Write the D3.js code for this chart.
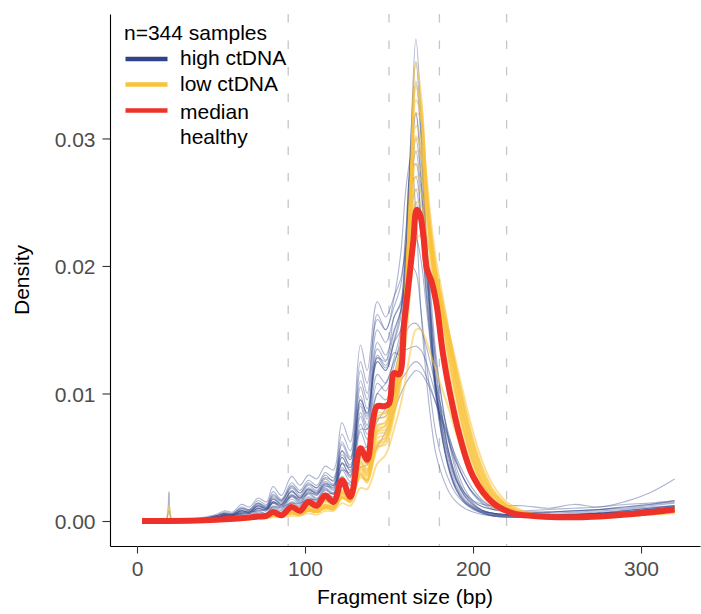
<!DOCTYPE html>
<html><head><meta charset="utf-8">
<script src="https://cdn.jsdelivr.net/npm/d3@7"></script>
<style>
body{margin:0;background:#fff;}
svg{display:block;font-family:"Liberation Sans",Arial,Helvetica,sans-serif;}
</style>
</head><body>
<svg id="chart" width="701" height="614"></svg>
<script>
// ---- data ----
const fragmentBp = [3,10,17,19,21,30,40,47,52,57,62,67,72,77,81,86,92,97,102,107,112,117,122,127,133,137,143,148,153,157,160,163,166,169,172,175,178,182,186,190,195,200,206,212,220,230,245,260,275,290,305,320];

const highCtDNA1 = [0,0,0,.0023,.0001,.0001,.0003,.0005,.0008,.0007,.0013,.0011,.0018,.0015,.0027,.0020,.0035,.0028,.0036,.0033,.0043,.0040,.0077,.0062,.0138,.0118,.0172,.0160,.0176,.0190,.0215,.0245,.0260,.0235,.0195,.0160,.0125,.0090,.0062,.0042,.0025,.0016,.0011,.0009,.0008,.0007,.0007,.0008,.0009,.0011,.0013,.0015];
const highCtDNA2 = [0,0,0,0,0,.0001,.0002,.0004,.0006,.0006,.0010,.0009,.0014,.0012,.0020,.0016,.0027,.0022,.0029,.0026,.0034,.0032,.0055,.0048,.0095,.0085,.0125,.0118,.0132,.0130,.0134,.0136,.0137,.0134,.0125,.0112,.0098,.0080,.0062,.0046,.0032,.0022,.0015,.0011,.0009,.0008,.0009,.0010,.0011,.0013,.0014,.0016];
const highCtDNA3 = [0,0,0,0,0,.0001,.0002,.0003,.0004,.0005,.0006,.0007,.0008,.0009,.0011,.0011,.0014,.0014,.0017,.0017,.0021,.0022,.0030,.0030,.0042,.0044,.0058,.0070,.0086,.0100,.0108,.0114,.0118,.0116,.0110,.0102,.0092,.0078,.0064,.0050,.0036,.0025,.0016,.0011,.0008,.0006,.0005,.0005,.0006,.0007,.0008,.0009];
const highCtDNA4 = [0,0,0,0,0,.0001,.0002,.0003,.0005,.0005,.0008,.0007,.0012,.0010,.0018,.0013,.0024,.0018,.0025,.0022,.0030,.0026,.0055,.0042,.0105,.0088,.0140,.0130,.0150,.0165,.0195,.0250,.0300,.0270,.0215,.0165,.0120,.0080,.0052,.0033,.0020,.0013,.0008,.0006,.0005,.0004,.0004,.0005,.0006,.0008,.0010,.0012];
const highCtDNA5 = [0,0,0,0,0,0,.0001,.0002,.0003,.0003,.0005,.0004,.0008,.0006,.0012,.0009,.0017,.0013,.0019,.0016,.0024,.0021,.0042,.0034,.0082,.0068,.0115,.0108,.0128,.0150,.0200,.0290,.0345,.0300,.0220,.0150,.0100,.0062,.0038,.0024,.0014,.0009,.0006,.0004,.0003,.0003,.0003,.0004,.0005,.0006,.0008,.0010];
const highCtDNA6 = [0,0,0,0,0,0,.0001,.0001,.0002,.0002,.0004,.0003,.0006,.0005,.0010,.0007,.0014,.0011,.0016,.0013,.0020,.0017,.0035,.0028,.0070,.0058,.0100,.0095,.0115,.0140,.0200,.0300,.0378,.0320,.0230,.0160,.0105,.0065,.0040,.0025,.0015,.0010,.0006,.0004,.0003,.0003,.0003,.0004,.0005,.0006,.0007,.0009];
const highCtDNA7 = [0,0,0,.0001,0,.0001,.0002,.0004,.0006,.0005,.0009,.0008,.0013,.0011,.0019,.0015,.0026,.0020,.0028,.0024,.0033,.0029,.0060,.0048,.0110,.0095,.0150,.0140,.0160,.0170,.0190,.0215,.0222,.0205,.0170,.0135,.0100,.0070,.0048,.0032,.0022,.0016,.0013,.0012,.0012,.0012,.0010,.0013,.0011,.0015,.0022,.0033];
const highCtDNA8 = [0,0,0,0,0,.0001,.0002,.0003,.0004,.0004,.0007,.0006,.0010,.0008,.0015,.0011,.0020,.0015,.0022,.0018,.0026,.0022,.0045,.0036,.0085,.0072,.0125,.0118,.0140,.0160,.0215,.0275,.0280,.0235,.0180,.0135,.0095,.0062,.0040,.0026,.0016,.0011,.0007,.0005,.0004,.0004,.0004,.0005,.0006,.0007,.0009,.0011];
const highCtDNA9 = [0,0,0,0,0,0,.0001,.0002,.0002,.0002,.0003,.0003,.0005,.0004,.0007,.0005,.0010,.0008,.0012,.0010,.0016,.0013,.0028,.0020,.0052,.0045,.0080,.0082,.0105,.0135,.0190,.0270,.0320,.0285,.0225,.0175,.0130,.0090,.0060,.0038,.0022,.0014,.0008,.0006,.0004,.0003,.0003,.0003,.0004,.0005,.0006,.0007];
const highCtDNA10 = [0,0,0,0,0,.0001,.0002,.0003,.0005,.0004,.0008,.0007,.0012,.0010,.0017,.0013,.0023,.0018,.0025,.0021,.0029,.0025,.0050,.0040,.0092,.0080,.0130,.0122,.0140,.0150,.0185,.0230,.0250,.0225,.0180,.0140,.0105,.0072,.0048,.0031,.0019,.0012,.0008,.0006,.0005,.0004,.0004,.0005,.0006,.0007,.0009,.0011];
const highCtDNA11 = [0,0,0,0,0,.0001,.0002,.0003,.0004,.0004,.0007,.0006,.0010,.0009,.0014,.0012,.0019,.0017,.0022,.0021,.0027,.0027,.0045,.0042,.0072,.0072,.0100,.0108,.0125,.0138,.0148,.0154,.0155,.0150,.0138,.0122,.0105,.0085,.0066,.0048,.0032,.0021,.0013,.0009,.0007,.0006,.0006,.0007,.0008,.0009,.0011,.0012];
const highCtDNA12 = [0,0,0,0,0,.0001,.0002,.0004,.0006,.0005,.0010,.0008,.0014,.0011,.0021,.0016,.0028,.0022,.0030,.0026,.0036,.0031,.0062,.0050,.0118,.0100,.0158,.0150,.0175,.0210,.0260,.0285,.0240,.0165,.0115,.0078,.0052,.0034,.0022,.0015,.0010,.0007,.0005,.0004,.0004,.0004,.0004,.0005,.0006,.0008,.0010,.0012];
const highCtDNA13 = [0,0,0,0,0,.0001,.0001,.0002,.0004,.0003,.0006,.0005,.0009,.0008,.0014,.0010,.0019,.0014,.0021,.0017,.0025,.0021,.0046,.0035,.0090,.0075,.0128,.0120,.0142,.0165,.0225,.0290,.0320,.0270,.0200,.0145,.0102,.0068,.0044,.0028,.0017,.0011,.0007,.0005,.0004,.0004,.0004,.0005,.0006,.0007,.0009,.0011];
const highCtDNA14 = [0,0,0,.0008,0,.0001,.0002,.0004,.0007,.0006,.0011,.0009,.0016,.0013,.0023,.0017,.0030,.0024,.0032,.0028,.0038,.0034,.0068,.0055,.0125,.0108,.0162,.0150,.0168,.0185,.0225,.0262,.0270,.0238,.0188,.0145,.0108,.0076,.0052,.0035,.0022,.0015,.0011,.0009,.0008,.0007,.0007,.0008,.0009,.0011,.0013,.0016];
const highCtDNA15 = [0,0,0,0,0,0,.0001,.0002,.0003,.0003,.0005,.0004,.0007,.0006,.0011,.0008,.0015,.0012,.0018,.0015,.0022,.0019,.0040,.0031,.0076,.0064,.0108,.0102,.0122,.0145,.0205,.0300,.0360,.0305,.0220,.0152,.0102,.0064,.0040,.0025,.0015,.0010,.0006,.0004,.0003,.0003,.0003,.0004,.0005,.0006,.0008,.0010];
const highCtDNA16 = [0,0,0,0,0,.0001,.0002,.0003,.0005,.0005,.0008,.0007,.0012,.0010,.0017,.0014,.0023,.0019,.0026,.0023,.0031,.0028,.0052,.0044,.0095,.0084,.0128,.0125,.0148,.0165,.0188,.0200,.0195,.0165,.0128,.0095,.0068,.0046,.0031,.0021,.0014,.0010,.0007,.0006,.0005,.0005,.0005,.0006,.0007,.0008,.0010,.0012];
const highCtDNA17 = [0,0,0,0,0,.0001,.0002,.0003,.0004,.0004,.0006,.0006,.0010,.0009,.0015,.0012,.0021,.0016,.0023,.0020,.0028,.0024,.0050,.0039,.0098,.0082,.0135,.0126,.0160,.0172,.0210,.0262,.0290,.0260,.0205,.0155,.0114,.0078,.0051,.0033,.0020,.0013,.0008,.0006,.0005,.0004,.0004,.0005,.0006,.0007,.0009,.0011];
const highCtDNA18 = [0,0,0,0,0,.0001,.0002,.0003,.0005,.0005,.0008,.0007,.0011,.0010,.0015,.0013,.0020,.0018,.0024,.0022,.0029,.0028,.0040,.0038,.0058,.0058,.0078,.0088,.0100,.0110,.0116,.0122,.0125,.0122,.0114,.0104,.0092,.0076,.0060,.0046,.0032,.0022,.0014,.0010,.0008,.0007,.0007,.0008,.0009,.0010,.0012,.0014];

const lowCtDNA1 = [0,0,0,0,0,0,0,.0001,.0001,.0001,.0002,.0002,.0003,.0003,.0004,.0004,.0006,.0005,.0008,.0007,.0011,.0010,.0018,.0015,.0038,.0032,.0062,.0065,.0090,.0125,.0190,.0280,.0360,.0335,.0270,.0215,.0180,.0145,.0115,.0088,.0060,.0040,.0024,.0014,.0008,.0004,.0003,.0003,.0004,.0005,.0006,.0008];
const lowCtDNA2 = [0,0,0,0,0,0,0,.0001,.0001,.0001,.0002,.0002,.0003,.0003,.0005,.0004,.0007,.0006,.0009,.0008,.0012,.0011,.0022,.0017,.0042,.0036,.0068,.0070,.0095,.0125,.0180,.0265,.0330,.0318,.0268,.0222,.0190,.0158,.0128,.0100,.0070,.0047,.0028,.0017,.0009,.0005,.0003,.0003,.0004,.0005,.0007,.0009];
const lowCtDNA3 = [0,0,0,0,0,0,0,.0001,.0001,.0001,.0002,.0002,.0003,.0003,.0005,.0004,.0007,.0006,.0010,.0008,.0013,.0012,.0024,.0019,.0045,.0039,.0072,.0075,.0100,.0128,.0175,.0250,.0300,.0295,.0262,.0228,.0198,.0168,.0138,.0110,.0078,.0052,.0031,.0019,.0010,.0005,.0003,.0003,.0004,.0005,.0007,.0009];
const lowCtDNA4 = [0,0,0,0,0,0,.0001,.0001,.0001,.0001,.0002,.0002,.0004,.0003,.0005,.0005,.0008,.0007,.0011,.0009,.0015,.0013,.0027,.0021,.0050,.0044,.0080,.0082,.0108,.0132,.0170,.0235,.0280,.0275,.0248,.0215,.0190,.0162,.0135,.0108,.0078,.0054,.0033,.0020,.0011,.0006,.0004,.0003,.0004,.0005,.0007,.0009];
const lowCtDNA5 = [0,0,0,0,0,0,0,.0001,.0001,.0001,.0002,.0002,.0003,.0003,.0005,.0004,.0007,.0006,.0009,.0008,.0012,.0011,.0022,.0018,.0042,.0038,.0070,.0075,.0100,.0125,.0160,.0215,.0260,.0258,.0238,.0212,.0192,.0168,.0142,.0116,.0086,.0060,.0037,.0022,.0012,.0006,.0004,.0003,.0003,.0004,.0006,.0008];
const lowCtDNA6 = [0,0,0,0,0,0,0,.0001,.0001,.0001,.0002,.0002,.0003,.0003,.0004,.0004,.0006,.0006,.0008,.0007,.0010,.0010,.0019,.0016,.0036,.0033,.0060,.0066,.0090,.0115,.0150,.0200,.0240,.0240,.0225,.0205,.0188,.0166,.0142,.0118,.0090,.0064,.0040,.0024,.0013,.0007,.0004,.0003,.0003,.0004,.0005,.0007];
const lowCtDNA7 = [0,0,0,0,0,0,0,.0001,.0001,.0001,.0002,.0002,.0003,.0003,.0004,.0004,.0006,.0005,.0008,.0007,.0011,.0009,.0019,.0015,.0036,.0030,.0058,.0060,.0082,.0110,.0170,.0260,.0340,.0322,.0262,.0208,.0172,.0138,.0108,.0082,.0056,.0037,.0022,.0013,.0007,.0004,.0002,.0002,.0003,.0004,.0005,.0007];
const lowCtDNA8 = [0,0,0,0,0,0,0,0,.0001,.0001,.0001,.0001,.0002,.0002,.0003,.0003,.0004,.0004,.0006,.0005,.0008,.0008,.0014,.0012,.0026,.0025,.0045,.0052,.0072,.0092,.0112,.0135,.0150,.0150,.0142,.0130,.0118,.0102,.0086,.0068,.0048,.0032,.0019,.0011,.0007,.0004,.0003,.0003,.0003,.0004,.0005,.0006];
const lowCtDNA9 = [0,0,0,.0012,0,0,.0001,.0001,.0002,.0002,.0003,.0003,.0005,.0004,.0007,.0006,.0010,.0008,.0013,.0011,.0017,.0015,.0030,.0024,.0055,.0048,.0085,.0085,.0112,.0140,.0190,.0260,.0310,.0300,.0262,.0225,.0195,.0163,.0132,.0103,.0072,.0048,.0029,.0017,.0009,.0005,.0003,.0003,.0004,.0005,.0007,.0009];
const lowCtDNA10 = [0,0,0,0,0,0,0,.0001,.0001,.0001,.0002,.0002,.0003,.0003,.0005,.0004,.0007,.0006,.0010,.0008,.0013,.0011,.0024,.0019,.0046,.0040,.0074,.0078,.0104,.0128,.0168,.0230,.0270,.0268,.0245,.0218,.0196,.0172,.0146,.0120,.0090,.0063,.0040,.0024,.0013,.0007,.0004,.0003,.0003,.0004,.0006,.0008];
const lowCtDNA11 = [0,0,0,0,0,0,0,.0001,.0001,.0001,.0002,.0002,.0003,.0003,.0005,.0005,.0007,.0006,.0009,.0008,.0012,.0012,.0023,.0019,.0047,.0041,.0075,.0077,.0102,.0130,.0172,.0240,.0290,.0286,.0256,.0224,.0196,.0166,.0136,.0108,.0076,.0051,.0030,.0018,.0010,.0005,.0003,.0003,.0003,.0004,.0006,.0008];
const lowCtDNA12 = [0,0,0,0,0,0,0,.0001,.0001,.0001,.0002,.0002,.0003,.0003,.0004,.0004,.0006,.0005,.0008,.0007,.0011,.0010,.0020,.0016,.0040,.0035,.0065,.0068,.0092,.0122,.0178,.0262,.0320,.0315,.0275,.0235,.0205,.0176,.0146,.0118,.0085,.0058,.0035,.0021,.0011,.0006,.0003,.0003,.0004,.0005,.0006,.0008];
const lowCtDNA13 = [0,0,0,0,0,0,.0001,.0001,.0002,.0002,.0003,.0003,.0004,.0004,.0006,.0005,.0009,.0008,.0012,.0010,.0016,.0014,.0028,.0022,.0052,.0046,.0082,.0085,.0110,.0132,.0165,.0215,.0250,.0248,.0228,.0206,.0186,.0162,.0138,.0112,.0082,.0057,.0035,.0021,.0012,.0006,.0004,.0003,.0004,.0005,.0006,.0008];
const lowCtDNA14 = [0,0,0,0,0,0,0,.0001,.0001,.0001,.0002,.0002,.0003,.0003,.0004,.0004,.0006,.0005,.0008,.0007,.0010,.0009,.0018,.0015,.0037,.0031,.0060,.0063,.0086,.0118,.0182,.0272,.0342,.0328,.0272,.0222,.0188,.0156,.0124,.0096,.0066,.0044,.0026,.0015,.0008,.0004,.0003,.0003,.0004,.0005,.0006,.0008];
const lowCtDNA15 = [0,0,0,0,0,0,0,.0001,.0001,.0001,.0002,.0002,.0003,.0003,.0004,.0004,.0006,.0005,.0008,.0007,.0010,.0010,.0018,.0016,.0034,.0032,.0056,.0063,.0086,.0108,.0140,.0185,.0220,.0224,.0214,.0198,.0184,.0166,.0146,.0124,.0096,.0070,.0045,.0028,.0015,.0008,.0004,.0003,.0003,.0004,.0005,.0007];
const lowCtDNA16 = [0,0,0,0,0,0,0,.0001,.0001,.0001,.0002,.0002,.0003,.0003,.0005,.0004,.0007,.0006,.0009,.0008,.0012,.0011,.0021,.0017,.0043,.0037,.0070,.0072,.0098,.0128,.0182,.0258,.0302,.0290,.0250,.0212,.0184,.0154,.0124,.0098,.0068,.0046,.0028,.0017,.0009,.0005,.0003,.0003,.0004,.0005,.0007,.0009];

const medianBp = [3,20,40,55,65,72,77,81,86,92,97,102,107,112,117,122,127,133,137,140,143,147,150,153,156,159,162,164.5,166.5,168.5,170.5,172.5,175.5,178.5,182,186,192,200,212,224,236,250,265,280,295,310,320];
const medianHealthy = [0,0,.00005,.00015,.00025,.00035,.0004,.0007,.00045,.0011,.0008,.0015,.0012,.0020,.0015,.0032,.0019,.0057,.0048,.0075,.0090,.0090,.0092,.0116,.0115,.0155,.0190,.0220,.0244,.0240,.0223,.0198,.0187,.0168,.0132,.0102,.0067,.0035,.0014,.0006,.0004,.0003,.0003,.0004,.00055,.00075,.0009];

const xTicks = [0, 100, 200, 300];
const yTicks = [0, 0.01, 0.02, 0.03];
const guideBp = [90, 150, 180, 220];
const legendTitle = "n=344 samples";
const legendLabels = [["high ctDNA"], ["low ctDNA"], ["median", "healthy"]];

const highSeries = [highCtDNA1,highCtDNA2,highCtDNA3,highCtDNA4,highCtDNA5,highCtDNA6,highCtDNA7,highCtDNA8,highCtDNA9,highCtDNA10,highCtDNA11,highCtDNA12,highCtDNA13,highCtDNA14,highCtDNA15,highCtDNA16,highCtDNA17,highCtDNA18];
const lowSeries = [lowCtDNA1,lowCtDNA2,lowCtDNA3,lowCtDNA4,lowCtDNA5,lowCtDNA6,lowCtDNA7,lowCtDNA8,lowCtDNA9,lowCtDNA10,lowCtDNA11,lowCtDNA12,lowCtDNA13,lowCtDNA14,lowCtDNA15,lowCtDNA16];

// ---- layout ----
const colors = {high: "#2f438a", low: "#f9c33a", median: "#ee3129"};
const panel = {left: 110, right: 700, top: 14, bottom: 546};
const svg = d3.select("#chart");

const x = d3.scaleLinear().domain([-16.07, 335.1]).range([panel.left, panel.right]);
const y = d3.scaleLinear().domain([-0.00196, 0.03976]).range([panel.bottom, panel.top]);

// guides
svg.append("g").selectAll("line").data(guideBp).join("line")
  .attr("x1", d => x(d)).attr("x2", d => x(d))
  .attr("y1", panel.top).attr("y2", panel.bottom)
  .attr("stroke", "#c6c6c6").attr("stroke-width", 1.3)
  .attr("stroke-dasharray", "8.5,18");

const lineGen = bp => d3.line()
  .x((d, i) => x(bp[i]))
  .y(d => y(d))
  .curve(d3.curveCatmullRom.alpha(0.5));

const gLines = svg.append("g");
gLines.selectAll("path.high").data(highSeries).join("path")
  .attr("class", "high")
  .attr("d", d => lineGen(fragmentBp)(d))
  .attr("fill", "none").attr("stroke", colors.high)
  .attr("stroke-opacity", 0.4).attr("stroke-width", 1.1);
gLines.selectAll("path.low").data(lowSeries).join("path")
  .attr("class", "low")
  .attr("d", d => lineGen(fragmentBp)(d))
  .attr("fill", "none").attr("stroke", colors.low)
  .attr("stroke-opacity", 0.55).attr("stroke-width", 1.9);
gLines.append("path")
  .attr("d", lineGen(medianBp)(medianHealthy))
  .attr("fill", "none").attr("stroke", colors.median)
  .attr("stroke-width", 6).attr("stroke-linejoin", "round").attr("stroke-linecap", "butt");

// axes
const xAxis = d3.axisBottom(x).tickValues(xTicks).tickFormat(d3.format("d"))
  .tickSize(7.5).tickSizeOuter(0).tickPadding(8);
const yAxis = d3.axisLeft(y).tickValues(yTicks).tickFormat(d3.format(".2f"))
  .tickSize(7.5).tickSizeOuter(0).tickPadding(7);

const gx = svg.append("g").attr("transform", `translate(0,${panel.bottom})`).call(xAxis);
const gy = svg.append("g").attr("transform", `translate(${panel.left},0)`).call(yAxis);
[gx, gy].forEach(g => {
  g.select(".domain").attr("stroke", "#000").attr("stroke-width", 1.1);
  g.selectAll(".tick line").attr("stroke", "#333").attr("stroke-width", 1.1);
  g.selectAll(".tick text").attr("fill", "#4d4d4d").attr("font-size", 21)
    .attr("font-family", '"Liberation Sans",Arial,Helvetica,sans-serif');
});
gy.selectAll(".tick text").attr("dy", "0.36em");

// axis titles
svg.append("text").attr("x", (panel.left + panel.right) / 2).attr("y", 604)
  .attr("text-anchor", "middle").attr("font-size", 21).attr("fill", "#000")
  .text("Fragment size (bp)");
svg.append("text").attr("transform", `translate(29,${(panel.top + panel.bottom) / 2}) rotate(-90)`)
  .attr("text-anchor", "middle").attr("font-size", 21).attr("fill", "#000")
  .text("Density");

// legend
const lg = svg.append("g");
lg.append("text").attr("x", 124).attr("y", 39.5).attr("font-size", 21).attr("fill", "#000").text(legendTitle);
const keyY = [59, 84.5, 110.5];
const labY = [[64.5], [90.5], [118.5, 144]];
const keyCol = [colors.high, colors.low, colors.median];
legendLabels.forEach((lab, i) => {
  lg.append("line").attr("x1", 125.5).attr("x2", 167.5).attr("y1", keyY[i]).attr("y2", keyY[i])
    .attr("stroke", keyCol[i]).attr("stroke-width", 4.5);
  lab.forEach((t, j) => {
    lg.append("text").attr("x", 180).attr("y", labY[i][j]).attr("font-size", 21).attr("fill", "#000").text(t);
  });
});
</script>
</body></html>
